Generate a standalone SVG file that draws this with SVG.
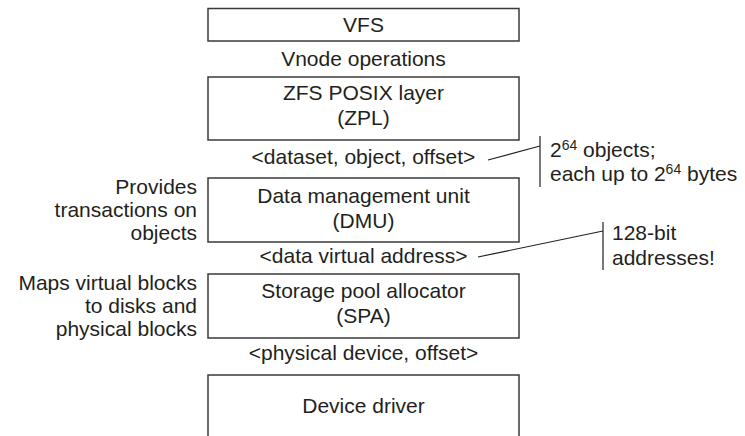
<svg xmlns="http://www.w3.org/2000/svg" width="745" height="436" viewBox="0 0 745 436">
<style>
text{font-family:"Liberation Sans",Arial,sans-serif;font-size:21px;fill:#231f20}
.c{text-anchor:middle}
.r{text-anchor:end}
.box{fill:#fff;stroke:#3a3a3a;stroke-width:1.5}
.ln{fill:none;stroke:#231f20;stroke-width:1.2}
.sup{font-size:14px}
</style>
<rect width="745" height="436" fill="#fff"/>
<g id="vfs"><rect class="box" x="208" y="8.5" width="311" height="32.5"/><text class="c" x="363.5" y="32">VFS</text></g>
<text class="c" x="363.5" y="66">Vnode operations</text>
<g id="zpl"><rect class="box" x="208" y="77" width="311" height="63"/><text class="c" x="363.5" y="100">ZFS POSIX layer</text><text class="c" x="363.5" y="125">(ZPL)</text></g>
<text class="c" x="363.5" y="164">&lt;dataset, object, offset&gt;</text>
<g id="dmu"><rect class="box" x="208" y="178" width="311" height="64"/><text class="c" x="363.5" y="203">Data management unit</text><text class="c" x="363.5" y="228">(DMU)</text></g>
<g id="dmu-note"><text class="r" x="197" y="194">Provides</text><text class="r" x="197" y="217">transactions on</text><text class="r" x="197" y="240">objects</text></g>
<text class="c" x="363.5" y="263">&lt;data virtual address&gt;</text>
<g id="spa"><rect class="box" x="208" y="274" width="311" height="64"/><text class="c" x="363.5" y="298">Storage pool allocator</text><text class="c" x="363.5" y="323">(SPA)</text></g>
<g id="spa-note"><text class="r" x="197" y="290">Maps virtual blocks</text><text class="r" x="197" y="313">to disks and</text><text class="r" x="197" y="336">physical blocks</text></g>
<text class="c" x="363.5" y="360">&lt;physical device, offset&gt;</text>
<g id="driver"><path class="box" d="M208,437V375H519V437"/><text class="c" x="363.5" y="413">Device driver</text></g>
<g id="note-objects"><text x="550" y="157">2<tspan class="sup" dy="-7">64</tspan><tspan dy="7"> objects;</tspan></text><text x="550" y="181">each up to 2<tspan class="sup" dy="-7">64</tspan><tspan dy="7"> bytes</tspan></text></g>
<g id="note-addr"><text x="612" y="240">128-bit</text><text x="612" y="265">addresses!</text></g>
<g id="connectors">
<path class="ln" d="M488,160L540,146M540,136V187"/>
<path class="ln" d="M478,257L603,231M603,222V270"/>
</g>
</svg>
